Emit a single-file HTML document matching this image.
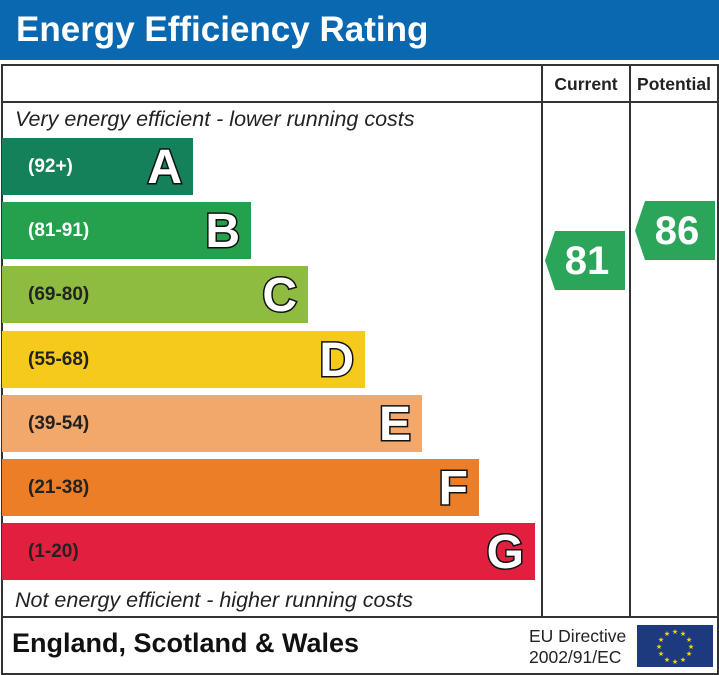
<!DOCTYPE html>
<html><head><style>
body{margin:0;width:719px;height:675px;background:#fff;position:relative;overflow:hidden;font-family:"Liberation Sans",Arial,sans-serif}
.a{position:absolute}
.bar{position:absolute;left:2px;height:57px}
.rng{position:absolute;left:26px;top:0;line-height:57px;color:#fff;font-weight:bold;font-size:19px}
.let{position:absolute;right:11px;top:1px;line-height:57px;font-size:48px;font-weight:bold;color:#fff;-webkit-text-stroke:3px #111;paint-order:stroke fill}
.vl{position:absolute;background:#333}
.arr{position:absolute;width:80px;height:59px;background:#2ba55a;clip-path:polygon(10px 0,100% 0,100% 100%,10px 100%,0 50%);color:#fff;font-weight:bold;font-size:40px;line-height:60px;text-align:center;padding-left:4px;box-sizing:border-box}
</style></head><body>
<div class="a" style="left:0;top:0;width:719px;height:60px;background:#0a68b0"></div>
<div class="a" style="left:16px;top:8px;color:#fff;font-size:35px;font-weight:bold;line-height:44px">Energy Efficiency Rating</div>
<div class="a" style="left:1px;top:64px;width:714px;height:607px;border:2px solid #333"></div>
<div class="vl" style="left:1px;top:101px;width:716px;height:2px"></div>
<div class="vl" style="left:1px;top:616px;width:716px;height:2px"></div>
<div class="vl" style="left:541px;top:64px;width:2px;height:553px"></div>
<div class="vl" style="left:629px;top:64px;width:2px;height:553px"></div>
<div class="a" style="left:543px;top:74px;width:86px;text-align:center;font-weight:bold;font-size:17.5px;color:#222">Current</div>
<div class="a" style="left:631px;top:74px;width:86px;text-align:center;font-weight:bold;font-size:17.5px;color:#222">Potential</div>
<div class="a" style="left:15px;top:107px;font-style:italic;font-size:21.5px;color:#222">Very energy efficient - lower running costs</div>
<div class="a" style="left:15px;top:588px;font-style:italic;font-size:21.5px;color:#222">Not energy efficient - higher running costs</div>
<div class="bar" style="top:138px;width:191px;background:#15815a"><span class="rng">(92+)</span><span class="let">A</span></div>
<div class="bar" style="top:202px;width:249px;background:#25a04d"><span class="rng">(81-91)</span><span class="let">B</span></div>
<div class="bar" style="top:266px;width:306px;background:#8dbc40"><span class="rng" style="color:#222">(69-80)</span><span class="let">C</span></div>
<div class="bar" style="top:331px;width:363px;background:#f5ca1a"><span class="rng" style="color:#222">(55-68)</span><span class="let">D</span></div>
<div class="bar" style="top:395px;width:420px;background:#f2a86b"><span class="rng" style="color:#222">(39-54)</span><span class="let">E</span></div>
<div class="bar" style="top:459px;width:477px;background:#ec7e27"><span class="rng" style="color:#222">(21-38)</span><span class="let">F</span></div>
<div class="bar" style="top:523px;width:533px;background:#e1203f"><span class="rng" style="color:#222">(1-20)</span><span class="let">G</span></div>
<div class="arr" style="left:545px;top:231px">81</div>
<div class="arr" style="left:635px;top:201px">86</div>
<div class="a" style="left:12px;top:628px;font-size:27px;font-weight:bold;color:#111">England, Scotland &amp; Wales</div>
<div class="a" style="left:529px;top:626px;font-size:17.5px;color:#222;line-height:21px">EU Directive<br>2002/91/EC</div>
<svg class="a" style="left:637px;top:625px" width="76" height="42" viewBox="0 0 76 42">
<rect width="76" height="42" fill="#1d3a7e"/>
<g fill="#f5d800" font-size="7" text-anchor="middle" font-family="DejaVu Sans">
<text x="38" y="9">★</text><text x="46" y="11">★</text><text x="52" y="17">★</text><text x="54" y="24">★</text><text x="52" y="31">★</text><text x="46" y="37">★</text><text x="38" y="39">★</text><text x="30" y="37">★</text><text x="24" y="31">★</text><text x="22" y="24">★</text><text x="24" y="17">★</text><text x="30" y="11">★</text>
</g></svg>
</body></html>
